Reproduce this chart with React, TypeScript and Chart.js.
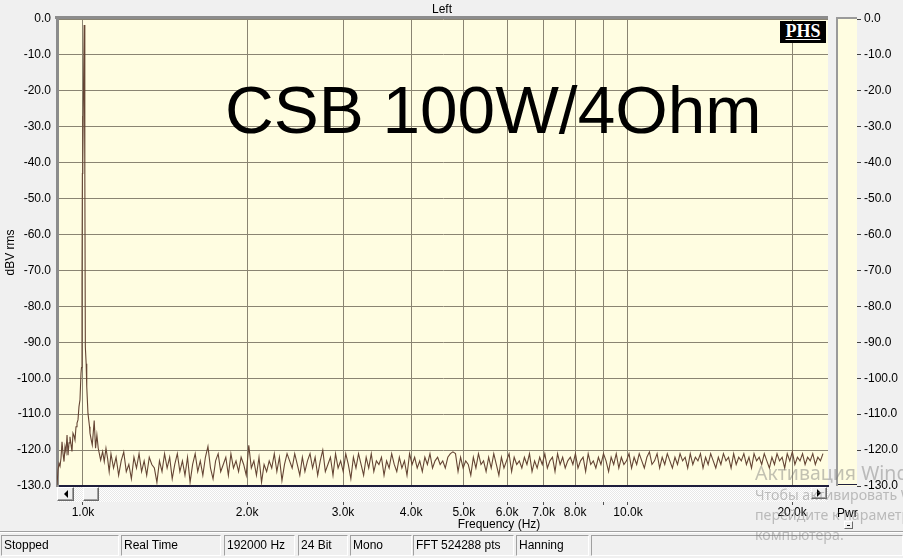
import React, { useEffect, useRef } from "react";
import { Chart, registerables } from "chart.js";

Chart.register(...registerables);

const FONT = "'Liberation Sans', Arial, Helvetica, sans-serif";
const WM_FONT = "'Noto Sans', 'Open Sans', sans-serif";

// ---- axis data ----
const X_MIN_HZ = 896;
const X_MAX_HZ = 23280;
const X_TICKS_HZ = [1000, 2000, 3000, 4000, 5000, 6000, 7000, 8000, 9000, 10000, 20000];
const X_TICK_LABELS = ["1.0k", "2.0k", "3.0k", "4.0k", "5.0k", "6.0k", "7.0k", "8.0k", "", "10.0k", "20.0k"];
const Y_MIN = -130;
const Y_MAX = 0;
const Y_STEP = 10;

// ---- spectrum around the 1 kHz tone ----
const PEAK_FREQS = [
  896.1, 899.9, 903.7, 907.5, 911.3, 915.2, 919.1, 923.0, 926.9, 930.8,
  934.8, 938.7, 942.7, 946.5, 950.6, 954.6, 958.6, 962.7, 966.8, 970.9,
  975.0, 979.1, 983.2, 987.4, 991.6, 993.7, 995.8, 997.4, 998.6, 999.6,
  1000.8, 1005.0, 1007.8, 1010.0, 1013.5, 1016.0, 1021.3, 1028.0, 1030.0, 1036.5,
  1040.0, 1048.5, 1054.5, 1060.5, 1066.5, 1077.5, 1086.5, 1094.0, 1102.0, 1109.5,
  1117.0,
];
const PEAK_LEVELS = [
  -129.7, -125.5, -123.7, -124.5, -122.2, -117.7, -121.0, -123.2, -119.0, -120.5,
  -115.8, -121.4, -118.0, -116.3, -118.5, -120.4, -115.3, -116.0, -117.2, -113.5,
  -112.5, -111.6, -107.9, -106.0, -98.6, -97.0, -74.0, -43.0, -27.0, -40.0,
  -28.0, -1.7, -43.0, -91.3, -96.0, -102.3, -109.8, -113.5, -115.3, -117.5,
  -118.6, -111.8, -119.5, -115.8, -119.5, -122.8, -120.4, -123.2, -119.5, -122.3,
  -126.0,
];

// ---- noise floor from ~1.13 kHz to ~22.8 kHz ----
const NOISE_START_HZ = 1125.5;
const NOISE_STOP_HZ = 22790;
const NOISE_LEVELS = [
  -121, -125, -122, -127, -123, -120.5, -126, -124, -128, -122,
  -125, -121, -126, -123, -127, -122, -124, -125, -129, -123,
  -126, -121, -125, -122, -128, -124, -121, -126, -123, -127,
  -122, -129, -124, -121, -126, -123, -127, -122, -119, -125,
  -128, -123, -121, -126, -124, -122, -127, -121, -125, -123,
  -126, -122, -124, -127, -118.7, -125, -123, -127, -122, -129,
  -124, -126, -123, -125, -121, -126, -122, -128.5, -124, -121,
  -123, -125, -121, -124, -127, -122, -126, -123, -121, -125,
  -122, -127, -123, -120, -126, -124, -122, -127, -121, -125,
  -123, -126, -121, -124, -128, -122, -125, -121, -124, -127,
  -122, -125, -121, -126, -123, -124, -122, -127, -123, -125,
  -121, -124, -126, -122, -125, -123, -127, -121, -124, -122,
  -125, -123, -126, -122, -124, -121, -125, -123, -122, -124,
  -123, -125, -122, -121, -120.5, -121, -126, -122, -125, -123,
  -124, -127, -122, -125, -121, -124, -123, -126, -122, -125,
  -121, -124, -127, -122, -125, -123, -121, -126, -122, -124,
  -123, -125, -122, -124, -121, -126, -123, -125, -122, -124,
  -121, -125, -123, -122, -126, -121, -124, -122, -125, -123,
  -122, -124, -121, -125, -123, -122, -126, -121, -124, -123,
  -125, -122, -124, -121, -123, -126, -122, -124, -121, -125,
  -122, -124, -123, -121, -125, -122, -124, -121, -123, -125,
  -122, -120.5, -124, -123, -121, -125, -122, -124, -121, -123,
  -125, -122, -124, -121, -123, -122, -125, -121, -124, -122,
  -123, -121, -125, -122, -124, -121, -123, -125, -122, -124,
  -121, -123, -122, -125, -121, -124, -122, -123, -121, -124,
  -122, -125, -121, -123, -122, -124, -121, -123, -125, -122,
  -124, -121, -123, -122, -125, -121, -123, -120.5, -124, -122,
  -123, -121, -124, -122, -123, -121, -124, -122, -123, -121,
];

// ---- texts ----
const TITLE = "Left";
const ANNOTATION = "CSB 100W/4Ohm";
const X_TITLE = "Frequency (Hz)";
const Y_TITLE = "dBV rms";
const METER_LABEL = "Pwr";
const STATUS_LABELS = ["Stopped", "Real Time", "192000 Hz", "24 Bit", "Mono", "FFT 524288 pts", "Hanning", ""];
const WATERMARK_LINES = ["Активация Windows", "Чтобы активировать Windows,", "перейдите к параметрам", "компьютера."];

// ---- layout (pixels) ----
const STATUS_CELL_EDGES = [
  [1, 119], [121, 221], [224, 295], [298, 348], [350, 412], [413, 514], [516, 589], [591, 903],
];

const PLOT_BG = "#fffde1";
const GRID = "#8a8472";
const TRACE = "#654534";
const PAGE_BG = "#f0f0f0";

const tickFmt = (v: any) => Number(v).toFixed(1);

function SpectrumChart() {
  const ref = useRef<HTMLCanvasElement>(null);
  useEffect(() => {
    const canvas = ref.current!;
    const noiseFreqs = NOISE_LEVELS.map(
      (_, i) => NOISE_START_HZ * Math.pow(NOISE_STOP_HZ / NOISE_START_HZ, i / (NOISE_LEVELS.length - 1))
    );
    const points = [
      ...PEAK_FREQS.map((f, i) => ({ x: f, y: PEAK_LEVELS[i] })),
      ...noiseFreqs.map((f, i) => ({ x: f, y: NOISE_LEVELS[i] })),
    ];
    const framePlugin = {
      id: "frame",
      beforeDraw(chart: any) {
        const { ctx, chartArea: a } = chart;
        ctx.save();
        ctx.fillStyle = PLOT_BG;
        ctx.fillRect(a.left, a.top, a.right - a.left, a.bottom - a.top);
        ctx.restore();
      },
      afterDraw(chart: any) {
        const { ctx, chartArea: a } = chart;
        ctx.save();
        ctx.fillStyle = "#8c8c8c";
        ctx.fillRect(a.left - 2, a.top - 3, a.right - a.left + 2, 3);
        ctx.restore();
      },
    };
    const chart = new Chart(canvas, {
      type: "line",
      data: {
        datasets: [
          {
            data: points,
            borderColor: TRACE,
            borderWidth: 1.1,
            pointRadius: 0,
            tension: 0,
            fill: false,
          },
        ],
      },
      options: {
        animation: false,
        responsive: false,
        maintainAspectRatio: false,
        devicePixelRatio: 1,
        events: [],
        layout: { padding: { left: 0, top: 19, right: 75, bottom: 28 } },
        plugins: { legend: { display: false }, tooltip: { enabled: false }, title: { display: false } },
        scales: {
          x: {
            type: "logarithmic",
            min: X_MIN_HZ,
            max: X_MAX_HZ,
            afterBuildTicks: (axis: any) => {
              axis.ticks = X_TICKS_HZ.map((v) => ({ value: v }));
            },
            afterFit: (axis: any) => {
              axis.height = 44;
            },
            ticks: {
              autoSkip: false,
              maxRotation: 0,
              minRotation: 0,
              padding: 0,
              color: "#000",
              font: { family: FONT, size: 12 },
              callback: (_v: any, i: number) => X_TICK_LABELS[i],
            },
            grid: { color: GRID, lineWidth: 1, drawTicks: true, tickLength: 19, tickColor: "#505050" },
            border: { display: true, color: "#1e1e3c", width: 2 },
          },
          y: {
            type: "linear",
            min: Y_MIN,
            max: Y_MAX,
            afterFit: (axis: any) => {
              axis.width = 57;
            },
            ticks: {
              stepSize: Y_STEP,
              padding: 6,
              color: "#000",
              font: { family: FONT, size: 12 },
              callback: tickFmt,
            },
            grid: { color: GRID, lineWidth: 1, drawTicks: false },
            border: { display: true, color: "#8c8c8c", width: 3 },
            title: {
              display: true,
              text: Y_TITLE,
              color: "#000",
              font: { family: FONT, size: 12 },
              padding: { top: 3, bottom: 0 },
            },
          },
        },
      } as any,
      plugins: [framePlugin as any],
    });
    return () => chart.destroy();
  }, []);
  return (
    <canvas
      ref={ref}
      width={903}
      height={558}
      style={{ position: "absolute", left: 0, top: 0, width: 903, height: 558 }}
    />
  );
}

function MeterChart() {
  const ref = useRef<HTMLCanvasElement>(null);
  useEffect(() => {
    const canvas = ref.current!;
    const meterPlugin = {
      id: "meterFrame",
      beforeDraw(chart: any) {
        const { ctx, chartArea: a } = chart;
        ctx.save();
        ctx.fillStyle = PLOT_BG;
        ctx.fillRect(a.left, a.top, a.right - a.left, a.bottom - a.top);
        ctx.fillStyle = "#9a9a9a";
        ctx.fillRect(a.left - 2, a.top - 2, 2, a.bottom - a.top + 2);
        ctx.fillRect(a.left - 2, a.top - 2, a.right - a.left + 2, 2);
        ctx.fillStyle = "#1e1e3c";
        ctx.fillRect(a.left, a.bottom - 2, a.right - a.left, 1);
        ctx.restore();
      },
    };
    const chart = new Chart(canvas, {
      type: "line",
      data: { labels: [""], datasets: [{ data: [] }] },
      options: {
        animation: false,
        responsive: false,
        maintainAspectRatio: false,
        devicePixelRatio: 1,
        events: [],
        layout: { padding: { left: 8, top: 19, right: 0, bottom: 72 } },
        plugins: { legend: { display: false }, tooltip: { enabled: false } },
        scales: {
          x: { display: false },
          y: {
            position: "right",
            min: Y_MIN,
            max: Y_MAX,
            afterFit: (axis: any) => {
              axis.width = 46;
            },
            ticks: {
              stepSize: Y_STEP,
              padding: 3,
              color: "#000",
              font: { family: FONT, size: 12 },
              callback: tickFmt,
            },
            grid: { drawOnChartArea: false, drawTicks: true, tickLength: 4, tickColor: "#404040" },
            border: { display: false },
          },
        },
      } as any,
      plugins: [meterPlugin as any],
    });
    return () => chart.destroy();
  }, []);
  return (
    <canvas
      ref={ref}
      width={73}
      height={558}
      style={{ position: "absolute", left: 830, top: 0, width: 73, height: 558 }}
    />
  );
}

function Label(props: {
  x: number;
  baseline: number;
  size: number;
  text: string;
  align?: "left" | "center";
  family?: string;
  color?: string;
  weight?: string | number;
}) {
  const { x, baseline, size, text, align = "left", family = FONT, color = "#000", weight = "normal" } = props;
  const ratio = family === FONT ? 0.8465 : 0.888;
  const top = baseline - ratio * size;
  return (
    <div
      style={{
        position: "absolute",
        left: x,
        top,
        fontFamily: family,
        fontSize: size,
        lineHeight: `${size}px`,
        whiteSpace: "nowrap",
        color,
        fontWeight: weight as any,
        transform: align === "center" ? "translateX(-50%)" : undefined,
      }}
    >
      {text}
    </div>
  );
}

function Btn(props: { left: number; top: number; w: number; h: number; arrow?: "left" | "right" }) {
  const { left, top, w, h, arrow } = props;
  const tri: React.CSSProperties =
    arrow === "left"
      ? { borderTop: "4px solid transparent", borderBottom: "4px solid transparent", borderRight: "4px solid #000" }
      : { borderTop: "4px solid transparent", borderBottom: "4px solid transparent", borderLeft: "4px solid #000" };
  return (
    <div
      style={{
        position: "absolute",
        left,
        top,
        width: w,
        height: h,
        boxSizing: "border-box",
        background: "#f0f0f0",
        borderTop: "1px solid #ffffff",
        borderLeft: "1px solid #ffffff",
        borderRight: "1px solid #6a6a6a",
        borderBottom: "1px solid #6a6a6a",
        boxShadow: "inset -1px -1px 0 #a0a0a0",
      }}
    >
      {arrow && (
        <div
          style={{
            position: "absolute",
            left: (w - 2 - 4) / 2,
            top: (h - 2 - 8) / 2,
            width: 0,
            height: 0,
            ...tri,
          }}
        />
      )}
    </div>
  );
}

export default function App() {
  return (
    <div
      style={{
        position: "fixed",
        left: 0,
        top: 0,
        width: 903,
        height: 558,
        overflow: "hidden",
        background: PAGE_BG,
        fontFamily: FONT,
      }}
    >
      <SpectrumChart />
      <MeterChart />

      {/* chart title */}
      <Label x={442} baseline={12.7} size={12} text={TITLE} align="center" />

      {/* big annotation */}
      <Label x={225} baseline={133} size={67.5} text={ANNOTATION} />

      {/* PHS logo */}
      <div
        style={{
          position: "absolute",
          left: 780,
          top: 21,
          width: 46,
          height: 22,
          background: "#000",
        }}
      >
        <div
          style={{
            position: "absolute",
            left: 0,
            width: 46,
            top: 1,
            textAlign: "center",
            color: "#fff",
            fontFamily: "'Liberation Serif', 'Times New Roman', serif",
            fontWeight: "bold",
            fontSize: 18,
            lineHeight: "18px",
            textDecoration: "underline",
            textUnderlineOffset: "2px",
            textDecorationThickness: "1px",
          }}
        >
          PHS
        </div>
      </div>

      {/* horizontal scrollbar under the plot */}
      <div
        style={{
          position: "absolute",
          left: 57,
          top: 487,
          width: 771,
          height: 15,
          background: "repeating-conic-gradient(#ffffff 0% 25%, #e8e8e8 0% 50%) 0 0 / 2px 2px",
        }}
      />
      <Btn left={57} top={487} w={17} h={14} arrow="left" />
      <Btn left={83} top={487} w={16} h={14} />
      <Btn left={811} top={487} w={16} h={12} arrow="right" />

      {/* x axis title */}
      <Label x={499} baseline={528.3} size={12} text={X_TITLE} align="center" />

      {/* meter label + small button */}
      <Label x={837} baseline={517} size={12} text={METER_LABEL} />
      <div
        style={{
          position: "absolute",
          left: 844,
          top: 521,
          width: 9,
          height: 8,
          boxSizing: "border-box",
          background: "#f0f0f0",
          borderTop: "1px solid #fff",
          borderLeft: "1px solid #fff",
          borderRight: "1px solid #6a6a6a",
          borderBottom: "1px solid #6a6a6a",
        }}
      >
        <div style={{ position: "absolute", left: 2, top: 3, width: 3, height: 1, background: "#000" }} />
      </div>

      {/* status bar */}
      <div style={{ position: "absolute", left: 0, top: 531, width: 903, height: 1, background: "#a0a0a0" }} />
      <div style={{ position: "absolute", left: 0, top: 532, width: 903, height: 1, background: "#ffffff" }} />
      {STATUS_LABELS.map((t, i) => {
        const [l, r] = STATUS_CELL_EDGES[i];
        return (
          <div
            key={i}
            style={{
              position: "absolute",
              left: l,
              top: 535,
              width: r - l,
              height: 21,
              boxSizing: "border-box",
              borderTop: "1px solid #a0a0a0",
              borderLeft: "1px solid #a0a0a0",
              borderRight: "1px solid #ffffff",
              borderBottom: "1px solid #ffffff",
              fontFamily: FONT,
              fontSize: 12,
              lineHeight: "18px",
              paddingLeft: 2,
              whiteSpace: "nowrap",
              overflow: "hidden",
              color: "#000",
            }}
          >
            {t}
          </div>
        );
      })}

      {/* OS activation watermark */}
      <Label x={755} baseline={480} size={19.5} text={WATERMARK_LINES[0]} family={WM_FONT} color="rgba(120,120,120,0.45)" />
      <Label x={755} baseline={501} size={14.2} text={WATERMARK_LINES[1]} family={WM_FONT} color="rgba(120,120,120,0.45)" />
      <Label x={755} baseline={521} size={14.2} text={WATERMARK_LINES[2]} family={WM_FONT} color="rgba(120,120,120,0.45)" />
      <Label x={755} baseline={541} size={14.2} text={WATERMARK_LINES[3]} family={WM_FONT} color="rgba(120,120,120,0.45)" />
    </div>
  );
}
